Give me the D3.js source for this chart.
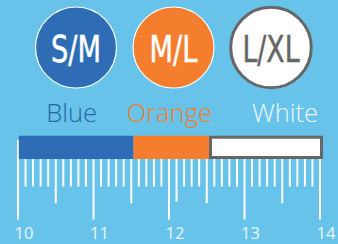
<!DOCTYPE html>
<html><head><meta charset="utf-8">
<script src="https://cdn.jsdelivr.net/npm/d3@7"></script>
<style>
html,body{margin:0;padding:0;background:#67C3E9;}
svg{display:block;}
</style></head>
<body>
<script>
// ---- data ----
const sizes = ["S/M", "M/L", "L/XL"];
const colorNames = ["Blue", "Orange", "White"];
const segStart = [10.01, 11.53, 12.53];
const segEnd = [11.53, 12.53, 14.04];
const tickLabels = [10, 11, 12, 13, 14];
const mediumTicks = [10.5, 11.5, 12.1, 12.5, 13.5];

// ---- style ----
const W = 338, H = 244;
const bg = "#67C3E9";
const fills = ["#2E6DB5", "#F47D2E", "#FFFFFF"];
const circleStroke = ["#FFFFFF", "#FFFFFF", "#666666"];
const circleStrokeW = [1.2, 1.2, 3];
const textFill = ["#FFFFFF", "#FFFFFF", "#666666"];
const legendFill = ["#2766A6", "#F27C2D", "#EEF8FD"];
const textLens = [50, 48, 57];
const legendX = [71.7, 169.3, 285];

const svg = d3.select("body").append("svg").attr("width", W).attr("height", H);
svg.append("rect").attr("width", W).attr("height", H).attr("fill", bg);

const x = d3.scaleLinear().domain([10, 14]).range([18, 320]);
const cx = d3.scalePoint().domain(sizes).range([76, 271]);

// circles
const g = svg.append("g");
g.selectAll("circle").data(sizes).join("circle")
  .attr("cx", d => cx(d)).attr("cy", 47.5)
  .attr("r", (d, i) => i === 2 ? 40.3 : 40.5)
  .attr("fill", (d, i) => fills[i])
  .attr("stroke", (d, i) => circleStroke[i])
  .attr("stroke-width", (d, i) => circleStrokeW[i]);
g.selectAll("text").data(sizes).join("text")
  .attr("x", d => cx(d)).attr("y", 61.5)
  .attr("text-anchor", "middle")
  .attr("font-family", "'Liberation Sans Narrow', 'DejaVu Sans Condensed', sans-serif")
  .attr("font-size", 37)
  .attr("fill", (d, i) => textFill[i])
  .attr("stroke", (d, i) => textFill[i])
  .attr("stroke-width", 0.5)
  .attr("textLength", (d, i) => textLens[i])
  .attr("lengthAdjust", "spacingAndGlyphs")
  .text(d => d);

// legend labels
svg.append("g").selectAll("text").data(colorNames).join("text")
  .attr("x", (d, i) => legendX[i]).attr("y", 122.3)
  .attr("text-anchor", "middle")
  .attr("font-family", "'Open Sans', 'Liberation Sans', sans-serif")
  .attr("font-weight", 300)
  .attr("font-size", 25.5)
  .attr("fill", (d, i) => legendFill[i])
  .text(d => d);

// ruler ticks
const axisG = svg.append("g");
const minor = x.ticks(40);
axisG.selectAll("line.t").data(minor).join("line")
  .attr("class", "t")
  .attr("x1", d => x(d)).attr("x2", d => x(d))
  .attr("y1", d => Math.abs(d - 10) < 1e-6 ? 140 : 159)
  .attr("y2", d => {
    if (tickLabels.some(t => Math.abs(t - d) < 1e-6)) return 219.5;
    if (mediumTicks.some(t => Math.abs(t - d) < 1e-6)) return Math.abs(d - 12.1) < 1e-6 ? 201.7 : 203.3;
    return 186.5;
  })
  .attr("stroke", "#FFFFFF").attr("stroke-width", 2);

// bar segments
const bars = svg.append("g");
bars.selectAll("rect").data(colorNames).join("rect")
  .attr("x", (d, i) => x(segStart[i]) + (i === 2 ? 1.5 : 0))
  .attr("y", (d, i) => i === 2 ? 137.2 : 135.7)
  .attr("width", (d, i) => x(segEnd[i]) - x(segStart[i]) - (i === 2 ? 3 : 0))
  .attr("height", (d, i) => i === 2 ? 20.3 : 23.3)
  .attr("fill", (d, i) => fills[i])
  .attr("stroke", (d, i) => i === 2 ? "#666666" : "none")
  .attr("stroke-width", 3);

// tick labels
axisG.selectAll("text").data(tickLabels).join("text")
  .attr("x", d => x(d) - 3.5).attr("y", 239.3)
  .attr("text-anchor", "start")
  .attr("font-family", "'Open Sans', 'Liberation Sans', sans-serif")
  .attr("font-weight", 400)
  .attr("font-size", 16.5)
  .attr("fill", "#EAF6FC")
  .text(d => d);
</script>
</body></html>
